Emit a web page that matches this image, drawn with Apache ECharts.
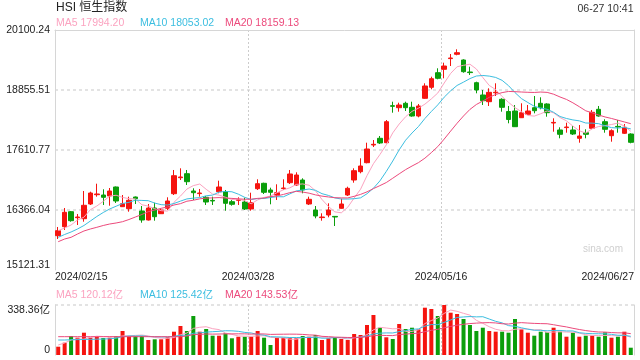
<!DOCTYPE html>
<html><head><meta charset="utf-8">
<script src="https://cdn.jsdelivr.net/npm/echarts@6/dist/echarts.min.js"></script>
<style>html,body{margin:0;padding:0;background:#fff}#c{width:640px;height:360px}</style>
</head><body><div id="c"></div>
<script>
const dates = ['2024/02/15','2024/02/16','2024/02/19','2024/02/20','2024/02/21','2024/02/22','2024/02/23','2024/02/26','2024/02/27','2024/02/28','2024/02/29',
'2024/03/01','2024/03/04','2024/03/05','2024/03/06','2024/03/07','2024/03/08','2024/03/11','2024/03/12','2024/03/13','2024/03/14','2024/03/15','2024/03/18','2024/03/19','2024/03/20','2024/03/21','2024/03/22','2024/03/25','2024/03/26','2024/03/27','2024/03/28',
'2024/04/02','2024/04/03','2024/04/05','2024/04/08','2024/04/09','2024/04/10','2024/04/11','2024/04/12','2024/04/15','2024/04/16','2024/04/17','2024/04/18','2024/04/19','2024/04/22','2024/04/23','2024/04/24','2024/04/25','2024/04/26','2024/04/29','2024/04/30',
'2024/05/02','2024/05/03','2024/05/06','2024/05/07','2024/05/08','2024/05/09','2024/05/10','2024/05/13','2024/05/14','2024/05/16','2024/05/17','2024/05/20','2024/05/21','2024/05/22','2024/05/23','2024/05/24','2024/05/27','2024/05/28','2024/05/29','2024/05/30','2024/05/31',
'2024/06/03','2024/06/04','2024/06/05','2024/06/06','2024/06/07','2024/06/11','2024/06/12','2024/06/13','2024/06/14','2024/06/17','2024/06/18','2024/06/19','2024/06/20','2024/06/21','2024/06/24','2024/06/25','2024/06/26','2024/06/27'];

const opens = [15832.9,16019.6,16330.8,16206.3,16185.6,16490.5,16683.4,16677.2,16656.5,16843.2,16434.5,16393.0,16635.7,16345.3,16158.6,16407.5,16289.3,16401.3,16704.2,17036.1,
17119.1,16760.2,16706.3,16629.5,16565.2,16745.7,16745.7,16538.2,16567.3,16532.0,16386.8,16807.9,16919.9,16781.0,16677.2,16810.0,16932.4,16884.7,16988.4,16490.5,
16366.0,16208.4,16262.3,16233.3,16401.3,16677.2,16988.4,17160.6,17347.3,17714.5,17853.5,17762.2,18529.8,18488.3,18579.6,18496.6,18316.1,18683.3,18911.5,19214.4,
19284.9,19506.9,19596.1,19477.9,19228.9,19006.9,18751.8,18612.8,18797.4,18662.6,18409.5,18419.8,18280.8,18351.4,18488.3,18579.6,18565.1,18170.9,18025.7,18075.5,
18025.7,17853.5,17969.7,18060.9,18455.1,18197.9,17907.4,18100.4,17957.2,17942.7];
const closes = [15936.6,16318.3,16144.1,16220.8,16463.5,16718.7,16698.0,16629.5,16760.2,16552.8,16496.7,16567.3,16600.5,16158.6,16407.5,16227.0,16366.0,16552.8,17077.6,17050.7,
16953.1,16724.9,16718.7,16532.0,16552.8,16843.2,16505.0,16484.3,16579.7,16386.8,16517.5,16911.6,16733.2,16733.2,16724.9,16822.4,17112.9,17092.1,16781.0,16588.0,
16241.6,16220.8,16366.0,16220.8,16490.5,16816.2,17181.3,17278.8,17631.5,17729.0,17756.0,18197.9,18517.4,18544.3,18488.3,18316.1,18523.6,18938.5,19089.9,19098.2,
19353.4,19519.4,19629.3,19235.1,19216.5,18855.5,18633.5,18807.8,18809.9,18496.6,18243.5,18094.2,18384.6,18419.8,18426.1,18488.3,18384.6,18183.3,17936.5,18087.9,
17942.7,17901.2,17936.5,18392.9,18316.1,18040.2,18011.2,18087.9,18081.7,17770.5];
const lows = [15764.4,15951.1,16123.3,16054.9,16123.3,16469.8,16642.0,16469.8,16455.3,16511.3,16428.3,16330.8,16490.5,16102.6,16148.2,16144.1,16283.1,16366.0,16677.2,16988.4,
16884.7,16573.5,16642.0,16469.8,16469.8,16712.5,16351.5,16455.3,16469.8,16366.0,16351.5,16781.0,16698.0,16484.3,16573.5,16781.0,16905.4,16870.2,16712.5,16469.8,
16193.9,16144.1,16214.6,16034.1,16395.1,16656.5,16932.4,17127.4,17334.9,17673.0,17735.2,17749.8,18384.6,18405.3,18419.8,18301.6,18289.2,18675.0,18870.0,19077.5,
19098.2,19353.4,19575.4,19214.4,19166.7,18787.0,18544.3,18523.6,18731.0,18405.3,18164.7,18087.9,18274.6,18336.9,18372.1,18455.1,18301.6,17990.4,17853.5,17969.7,
17922.0,17762.2,17853.5,18040.2,18301.6,17969.7,17783.0,17969.7,17942.7,17749.8];
const highs = [16013.4,16407.5,16345.3,16283.1,16760.2,16745.7,16911.6,16795.5,16822.4,16853.6,16677.2,16642.0,16646.1,16449.0,16490.5,16517.5,16401.3,16629.5,17195.9,17231.1,
17195.9,16816.2,16801.7,16656.5,16642.0,16973.9,16781.0,16573.5,16629.5,16621.2,16724.9,17002.9,16932.4,16828.7,16899.2,17002.9,17195.9,17148.2,17023.7,16642.0,
16449.0,16297.6,16505.0,16241.6,16600.5,16849.4,17231.1,17438.6,17762.2,17818.2,17901.2,18233.1,18612.8,18592.0,18612.8,18612.8,18565.1,18994.5,19131.4,19305.7,
19421.9,19602.3,19699.8,19492.4,19338.9,19027.7,18855.5,18890.8,18994.5,18683.3,18523.6,18544.3,18579.6,18544.3,18731.0,18704.1,18579.6,18268.4,18081.7,18177.1,
18108.7,18129.4,18040.2,18440.6,18523.6,18247.7,18040.2,18233.1,18150.2,17957.2];
// turnover, 亿
const volumes = [56.2,83.2,128.6,117.1,150.9,117.1,123.8,115.0,117.1,128.6,162.4,126.5,128.6,128.6,101.5,106.2,106.2,119.8,157.7,196.2,
162.4,263.9,157.7,175.9,130.6,130.6,146.8,113.0,123.8,123.8,123.8,162.4,117.1,67.7,117.1,117.1,117.1,113.0,128.6,123.8,
135.3,101.5,113.0,117.1,108.3,101.5,142.1,135.3,203.0,270.7,184.7,119.8,108.3,209.8,175.9,184.7,173.9,320.1,311.3,263.9,
338.4,286.3,277.5,243.6,203.0,162.4,184.7,162.4,157.7,157.7,150.9,243.6,173.9,150.9,130.6,157.7,153.6,184.7,157.7,123.8,
150.9,123.8,130.6,130.6,123.8,153.6,117.1,123.8,157.7,49.4];
// moving-average values before a full window exists
const ma5Head = [15936.6,15992.6,16054.9,16158.6];
const ma10Head = [15799.7,15857.8,15909.7,15971.9,16044.5,16137.8,16231.2,16314.2,16386.8];
const ma20Head = [15708.4,15764.4,15799.7,15868.1,15930.4,15971.9,16007.2,16044.5,16075.6,16096.4,16123.3,16168.9,16220.8,16272.7,16330.8,16366.0,16401.3,16428.3,16469.8];
const vma5Head = [67.7,81.2,101.5,108.3];
const vma10Head = [101.5,101.5,103.0,104.0,105.0,106.0,107.0,108.0,110.0];
const vma20Head = [124,124,124,124,124,124,124,124,124,124,124,124,124,124,124,124,124,124,124];

const yTickLabels = ['15121.31','16366.04','17610.77','18855.51','20100.24'];
const xTickLabels = ['2024/02/15','2024/03/28','2024/05/16','2024/06/27'];
const volTickLabels = ['0','338.36亿'];
const mainLegend = ['MA5 17994.20','MA10 18053.02','MA20 18159.13'];
const volLegend = ['MA5 120.12亿','MA10 125.42亿','MA20 143.53亿'];

const yMin = 15121.31, yMax = 20100.24, volMax = 338.36;
const UP = '#f5140f', DOWN = '#0b9e0b';
const C5 = '#fba3c0', C10 = '#3cbee0', C20 = '#ec4a7c';
const BORDER = '#d6d6d6';
const FONT = '"Liberation Sans","Noto Sans CJK SC",sans-serif';

function ma(arr, n, head) {
  return arr.map((v, i) => {
    if (i < n - 1) return head[i];
    let s = 0; for (let k = i - n + 1; k <= i; k++) s += arr[k];
    return +(s / n).toFixed(2);
  });
}

const kdata = dates.map((d, i) => [opens[i], closes[i], lows[i], highs[i]]);
const vdata = volumes.map((v, i) => ({ value: v, itemStyle: { color: closes[i] >= opens[i] ? UP : DOWN } }));

const line = (name, data, color, xi, yi) => ({
  name, type: 'line', data, xAxisIndex: xi, yAxisIndex: yi, symbol: 'none', z: 5,
  lineStyle: { color, width: 1 }, itemStyle: { color }, silent: true
});
const txt = (text, left, top, color, size) => ({
  text, left, top, padding: 0,
  textStyle: { color, fontSize: size, fontWeight: 'normal', fontFamily: FONT }
});
const edgeAxis = (grid, pos) => ({
  type: 'value', gridIndex: grid, position: pos, min: 0, max: 1,
  axisLine: { show: true, onZero: false, lineStyle: { color: BORDER, width: 1 } },
  axisTick: { show: false }, axisLabel: { show: false }, splitLine: { show: false }
});

const chart = echarts.init(document.getElementById('c'), null, { renderer: 'canvas' });
chart.setOption({
  animation: false,
  backgroundColor: '#fff',
  title: [
    txt('HSI 恒生指数', 56, 2, '#222', 12),
    Object.assign(txt('06-27 10:41', null, 4, '#333', 10.5), { right: 6.5, left: undefined }),
    txt(mainLegend[0], 56, 18, C5, 10.5),
    txt(mainLegend[1], 140, 18, C10, 10.5),
    txt(mainLegend[2], 225, 18, C20, 10.5),
    txt(volLegend[0], 56, 289.5, C5, 10.5),
    txt(volLegend[1], 140, 289.5, C10, 10.5),
    txt(volLegend[2], 225, 289.5, C20, 10.5),
    txt('sina.com', 583, 244, '#cfcfcf', 10)
  ],
  grid: [
    { left: 55, right: 6, top: 30, height: 240 },
    { left: 55, right: 6, top: 305, height: 50 }
  ],
  xAxis: [
    { type: 'category', gridIndex: 0, data: dates, boundaryGap: true, position: 'bottom',
      axisLine: { show: false }, axisTick: { show: false }, axisLabel: { show: false }, splitLine: { show: false } },
    { type: 'value', gridIndex: 0, position: 'bottom', min: 0, max: 90, interval: 30,
      axisLine: { show: false }, axisTick: { show: false },
      axisLabel: { formatter: v => xTickLabels[Math.round(v / 30)], color: '#222', fontSize: 10.5, fontFamily: FONT, margin: 2,
        alignMinLabel: 'left', alignMaxLabel: 'right' },
      splitLine: { show: true, lineStyle: { color: ['transparent', '#cccccc', '#cccccc', 'transparent'], width: 1, type: [2, 2] } } },
    { type: 'category', gridIndex: 1, data: dates, boundaryGap: true, position: 'bottom',
      axisLine: { show: false }, axisTick: { show: false }, axisLabel: { show: false }, splitLine: { show: false } },
    { type: 'value', gridIndex: 1, position: 'bottom', min: 0, max: 90, interval: 30,
      axisLine: { show: false }, axisTick: { show: false }, axisLabel: { show: false },
      splitLine: { show: true, lineStyle: { color: ['transparent', '#cccccc', '#cccccc', 'transparent'], width: 1, type: [2, 2] } } },
    edgeAxis(0, 'top')
  ],
  yAxis: [
    { type: 'value', gridIndex: 0, min: yMin, max: yMax, interval: (yMax - yMin) / 4,
      axisLine: { show: true, lineStyle: { color: BORDER } }, axisTick: { show: false },
      axisLabel: { formatter: v => yTickLabels[Math.round((v - yMin) / (yMax - yMin) * 4)], color: '#222', fontSize: 10.5, fontFamily: FONT, margin: 5,
        verticalAlignMinLabel: 'bottom' },
      splitLine: { lineStyle: { color: ['transparent', '#e3e3e3', '#e3e3e3', '#e3e3e3', 'transparent'], width: 2, type: [3, 3] } } },
    { type: 'value', gridIndex: 1, min: 0, max: volMax, interval: volMax,
      axisLine: { show: true, lineStyle: { color: BORDER } }, axisTick: { show: false },
      axisLabel: { formatter: v => volTickLabels[v > 0 ? 1 : 0], color: '#222', fontSize: 10.5, fontFamily: FONT, margin: 5,
        verticalAlignMinLabel: 'bottom', verticalAlignMaxLabel: 'top' },
      splitLine: { lineStyle: { color: ['transparent', '#e3e3e3'], width: 2, type: [3, 3] } } },
    edgeAxis(0, 'right'),
    edgeAxis(1, 'right')
  ],
  series: [
    { name: 'K', type: 'candlestick', xAxisIndex: 0, yAxisIndex: 0, data: kdata, barWidth: 5,
      itemStyle: { color: UP, color0: DOWN, borderColor: UP, borderColor0: DOWN, borderWidth: 1 } },
    line('MA5', ma(closes, 5, ma5Head), C5, 0, 0),
    line('MA10', ma(closes, 10, ma10Head), C10, 0, 0),
    line('MA20', ma(closes, 20, ma20Head), C20, 0, 0),
    { name: 'VOL', type: 'bar', xAxisIndex: 2, yAxisIndex: 1, data: vdata, barWidth: 4 },
    line('VMA5', ma(volumes, 5, vma5Head), C5, 2, 1),
    line('VMA10', ma(volumes, 10, vma10Head), C10, 2, 1),
    line('VMA20', ma(volumes, 20, vma20Head), C20, 2, 1)
  ]
});
</script>
</body></html>
